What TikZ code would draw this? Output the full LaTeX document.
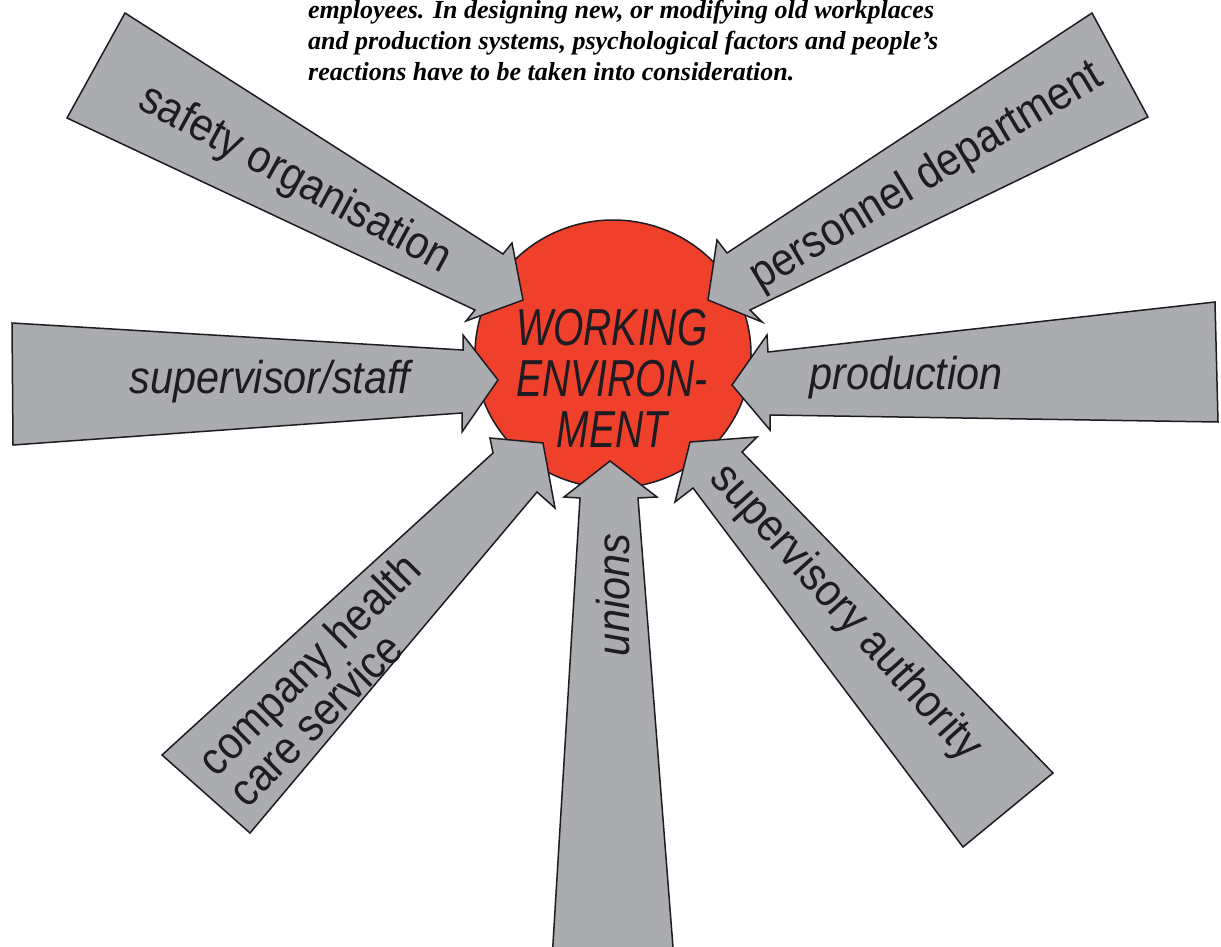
\documentclass[tikz,border=0pt]{standalone}
\usepackage{fontspec}
\setmainfont{Liberation Serif}
\newfontfamily\labfont[FakeStretch=0.9]{Liberation Sans}
\newfontfamily\wefont[FakeStretch=0.75]{Liberation Sans}
\usetikzlibrary{shapes.geometric}
\definecolor{arrowgray}{RGB}{171,172,176}
\definecolor{envred}{RGB}{239,64,44}
\definecolor{inkc}{RGB}{28,28,34}
\tikzset{
  bigarrow/.style={fill=arrowgray, draw=inkc, line width=1.5pt, line join=miter},
  lab/.style={font=\labfont\fontsize{46}{44}\selectfont, inner sep=0pt, text=inkc},
  labit/.style={lab, font=\labfont\itshape\fontsize{46}{44}\selectfont},
  toptext/.style={font=\bfseries\itshape\fontsize{26}{31}\selectfont, inner sep=0pt, anchor=base west}
}
\begin{document}
\begin{tikzpicture}[x=1pt,y=-1pt]
\useasboundingbox (0,0) rectangle (1221,947);
\clip (0,0) rectangle (1221,947);
\fill[white] (0,0) rectangle (1221,947);

% top text
\node[toptext] (t1) at (308,19) {employees. In designing new, or modifying old workplaces};
\node[toptext] (t2) at (308,50) {and production systems, psychological factors and people’s};
\node[toptext] (t3) at (308,81) {reactions have to be taken into consideration.};

% centre
\node[ellipse, minimum width=276pt, minimum height=268pt, inner sep=0pt,
      fill=envred, draw=inkc, line width=1.5pt] (env) at (613,354) {};

% arrows
\draw[bigarrow] (125,13) -- (503,254) -- (512,243) -- (523,300) -- (466,321) -- (475,310) -- (67,118) -- cycle;
\draw[bigarrow] (1092,13) -- (727,253) -- (717,240) -- (708,300) -- (762,322) -- (750,310) -- (1148,117) -- cycle;
\draw[bigarrow] (12,323) -- (463,350) -- (463,335) -- (498,380) -- (462,432) -- (462,413) -- (13,445) -- cycle;
\draw[bigarrow] (1215,302) -- (768,352) -- (767,335) -- (732,385) -- (770,430) -- (770,415) -- (1218,422) -- cycle;
\draw[bigarrow] (162,755) -- (493,453) -- (490,438) -- (543,443) -- (555,508) -- (537,492) -- (250,833) -- cycle;
\draw[bigarrow] (552,960) -- (580,498) -- (564,497) -- (610,461) -- (657,497) -- (638,498) -- (674,960) -- cycle;
\draw[bigarrow] (1053,773) -- (742,452) -- (757,437) -- (690,442) -- (675,502) -- (693,488) -- (963,847) -- cycle;

% centre text
\node[font=\wefont\itshape\fontsize{52}{51}\selectfont, align=center, inner sep=0pt, text=inkc]
  (envtext) at (612,378) {WORKING\\ENVIRON-\\MENT};

% labels
\node[lab, rotate=-28.5] (safety) at (295,180) {safety organisation};
\node[lab, rotate=31] (personnel) at (927,177) {personnel department};
\node[labit, anchor=base] (staff) at (270,393) {supervisor/staff};
\node[labit, anchor=base] (production) at (906,389) {production};
\node[lab, rotate=45, align=left] (health) at (324,679) {company health\\care service};
\node[labit, rotate=90] (unions) at (613,595) {unions};
\node[lab, rotate=-48] (authority) at (845,613) {supervisory authority};
\end{tikzpicture}
\end{document}
